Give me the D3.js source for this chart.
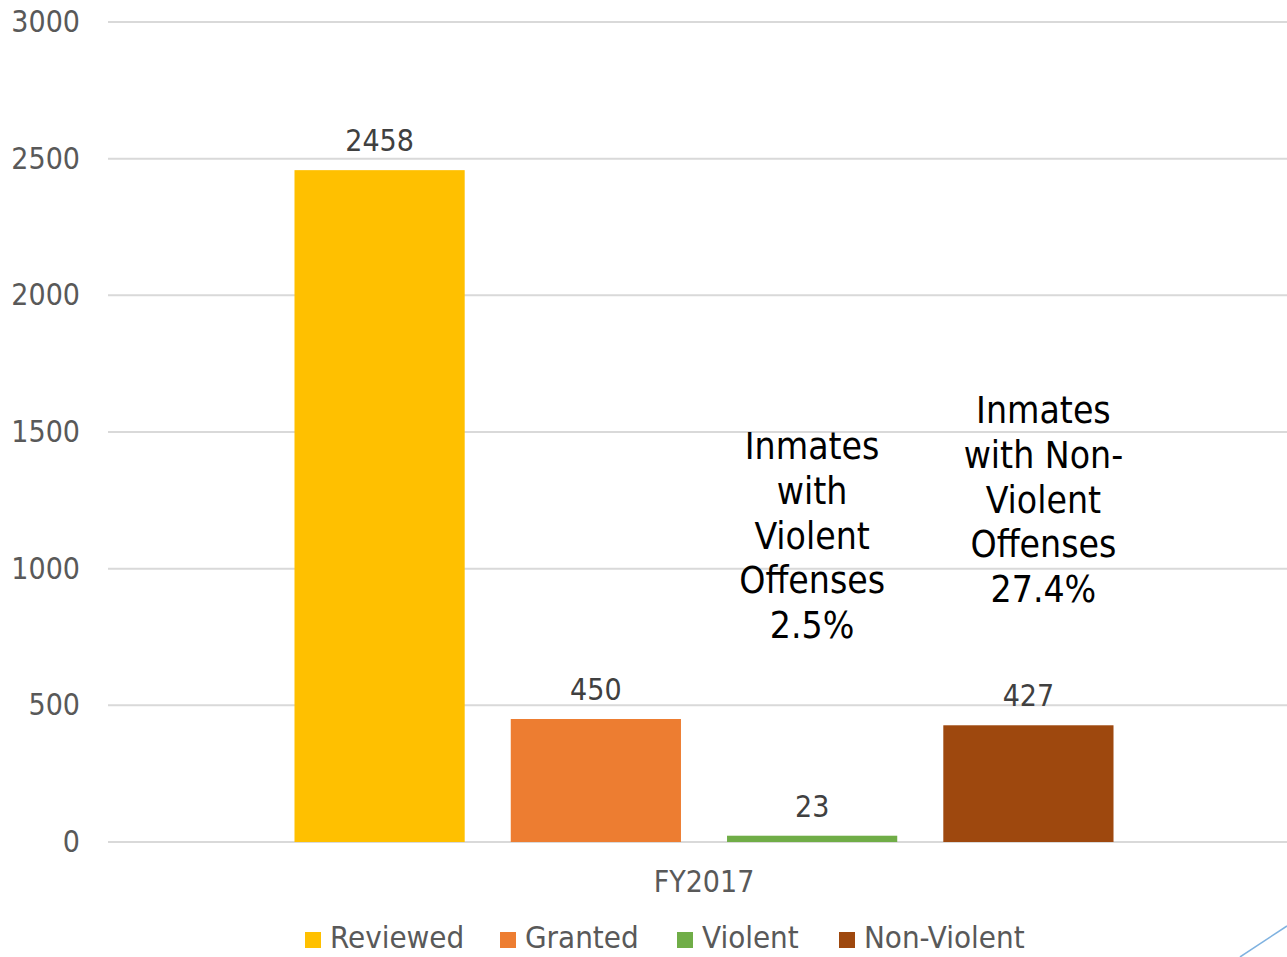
<!DOCTYPE html>
<html>
<head>
<meta charset="utf-8">
<script src="https://cdn.jsdelivr.net/npm/d3@7"></script>
<style>
  html, body { margin: 0; padding: 0; background: #fff; }
  svg { display: block; }
  text { font-family: "DejaVu Sans Condensed", "DejaVu Sans", sans-serif; }
</style>
</head>
<body>
<svg id="chart" width="1287" height="957"></svg>
<script>
// Parole review outcomes, FY2017
const categories = ["FY2017"];
const seriesNames = ["Reviewed", "Granted", "Violent", "Non-Violent"];
const seriesValues = [2458, 450, 23, 427];
const seriesColors = ["#FFC000", "#ED7D31", "#70AD47", "#9E480E"];
const yTicks = [0, 500, 1000, 1500, 2000, 2500, 3000];
const noteViolent = ["Inmates", "with", "Violent", "Offenses", "2.5%"];
const noteNonViolent = ["Inmates", "with Non-", "Violent", "Offenses", "27.4%"];

const svg = d3.select("#chart");
const W = 1287, H = 957;

const y = d3.scaleLinear().domain([0, 3000]).range([842, 22]);
const x0 = d3.scaleBand().domain(categories).range([108, 1300]).paddingInner(0).paddingOuter(0.2277);
const x1 = d3.scaleBand().domain(seriesNames).range([0, x0.bandwidth()]).paddingInner(0.213).paddingOuter(0);

// Horizontal gridlines
svg.append("g")
  .selectAll("line")
  .data(yTicks)
  .join("line")
  .attr("x1", 108).attr("x2", W)
  .attr("y1", d => y(d)).attr("y2", d => y(d))
  .attr("stroke", "#d9d9d9").attr("stroke-width", 2);

// Y axis labels
const yAxis = d3.axisLeft(y).tickValues(yTicks).tickFormat(d3.format("d")).tickSize(0).tickPadding(0);
const yg = svg.append("g").attr("transform", "translate(80,0)").call(yAxis);
yg.select(".domain").remove();
yg.selectAll("text")
  .attr("fill", "#595959")
  .style("font-size", "30px")
  .style("font-family", "\"DejaVu Sans Condensed\", \"DejaVu Sans\", sans-serif");

// Bars
const group = svg.append("g").attr("transform", `translate(${x0(categories[0])},0)`);
group.selectAll("rect")
  .data(seriesNames.map((n, i) => ({ name: n, value: seriesValues[i], color: seriesColors[i] })))
  .join("rect")
  .attr("x", d => x1(d.name))
  .attr("width", x1.bandwidth())
  .attr("y", d => y(d.value))
  .attr("height", d => y(0) - y(d.value))
  .attr("fill", d => d.color);

// Value labels
group.selectAll("text.val")
  .data(seriesNames.map((n, i) => ({ name: n, value: seriesValues[i] })))
  .join("text")
  .attr("class", "val")
  .attr("x", d => x1(d.name) + x1.bandwidth() / 2)
  .attr("y", d => y(d.value) - 19)
  .attr("text-anchor", "middle")
  .attr("fill", "#404040")
  .style("font-size", "30px")
  .text(d => d.value);

// Annotations
function note(lines, cx, firstY) {
  const t = svg.append("text")
    .attr("text-anchor", "middle")
    .attr("fill", "#000")
    .style("font-size", "37px");
  lines.forEach((l, i) => {
    t.append("tspan").attr("x", cx).attr("y", firstY + i * 44.8).text(l);
  });
}
note(noteViolent, x0(categories[0]) + x1("Violent") + x1.bandwidth() / 2, 459);
note(noteNonViolent, x0(categories[0]) + x1("Non-Violent") + x1.bandwidth() / 2 + 15, 423);

// Category label
svg.append("text")
  .attr("x", x0(categories[0]) + x0.bandwidth() / 2)
  .attr("y", 892)
  .attr("text-anchor", "middle")
  .attr("fill", "#595959")
  .style("font-size", "30px")
  .text(categories[0]);

// Legend
const legendX = [305, 500, 677, 839];
const legend = svg.append("g");
seriesNames.forEach((n, i) => {
  legend.append("rect")
    .attr("x", legendX[i]).attr("y", 932)
    .attr("width", 16).attr("height", 16)
    .attr("fill", seriesColors[i]);
  legend.append("text")
    .attr("x", legendX[i] + 25).attr("y", 948)
    .attr("fill", "#595959")
    .style("font-size", "31px")
    .text(n);
});

// Slide accent line in the corner
svg.append("line")
  .attr("x1", 1240).attr("y1", 957)
  .attr("x2", 1287).attr("y2", 926)
  .attr("stroke", "#7FB2E0").attr("stroke-width", 1.5);
</script>
</body>
</html>
